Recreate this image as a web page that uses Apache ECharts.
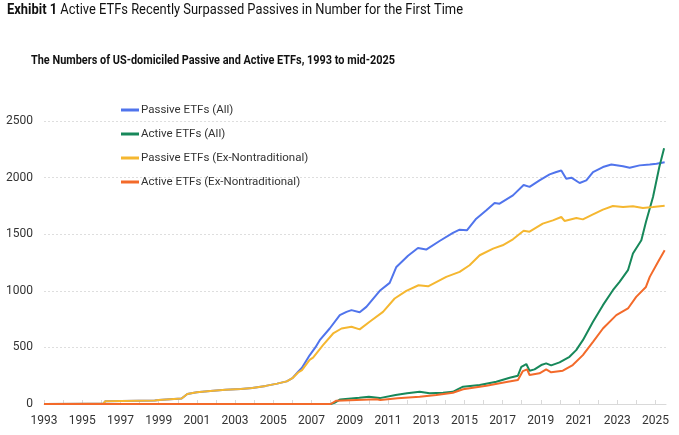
<!DOCTYPE html>
<html><head><meta charset="utf-8">
<script src="https://cdn.jsdelivr.net/npm/echarts@6/dist/echarts.min.js"></script>
<style>html,body{margin:0;padding:0;background:#fff}#c{width:679px;height:435px}</style>
</head><body><div id="c"></div>
<script>
const seriesNames = ['Passive ETFs (All)', 'Active ETFs (All)', 'Passive ETFs (Ex-Nontraditional)', 'Active ETFs (Ex-Nontraditional)'];
const yearTicks = [1993, 1995, 1997, 1999, 2001, 2003, 2005, 2007, 2009, 2011, 2013, 2015, 2017, 2019, 2021, 2023, 2025];
const titleBold = 'Exhibit 1';
const titleRest = 'Active ETFs Recently Surpassed Passives in Number for the First Time';
const subtitle = 'The Numbers of US-domiciled Passive and Active ETFs, 1993 to mid-2025';

const passiveAll = [[1993.0,1],[1995.3,2],[1996.1,2],[1996.2,24],[1998.8,30],[1999.0,35],[2000.2,48],[2000.5,88],[2001.0,103],[2001.7,115],[2002.5,125],[2003.3,133],[2003.9,142],[2004.6,160],[2005.2,180],[2005.7,200],[2006.0,228],[2006.3,285],[2006.5,320],[2006.9,430],[2007.2,500],[2007.43,564],[2007.95,667],[2008.48,785],[2008.83,814],[2009.09,829],[2009.52,810],[2009.87,858],[2010.57,1000],[2011.09,1070],[2011.44,1211],[2012.05,1310],[2012.57,1378],[2013.0,1364],[2013.7,1440],[2014.4,1511],[2014.75,1540],[2015.13,1534],[2015.62,1637],[2016.15,1711],[2016.58,1775],[2016.84,1770],[2017.54,1843],[2018.1,1935],[2018.41,1918],[2018.93,1975],[2019.46,2028],[2019.81,2049],[2020.07,2063],[2020.33,1990],[2020.6,1999],[2021.03,1952],[2021.38,1975],[2021.73,2049],[2022.25,2093],[2022.69,2116],[2023.3,2101],[2023.65,2087],[2024.17,2108],[2024.7,2116],[2025.05,2122],[2025.48,2135]];

const activeAll = [[1993.0,0],[2008.0,0],[2008.2,10],[2008.5,40],[2009.5,55],[2010.0,64],[2010.57,52],[2011.4,79],[2012.0,95],[2012.66,108],[2013.18,94],[2013.88,100],[2014.4,108],[2014.67,132],[2014.93,153],[2015.8,168],[2016.67,197],[2017.37,232],[2017.8,250],[2017.98,329],[2018.24,353],[2018.41,294],[2018.67,306],[2019.02,344],[2019.28,359],[2019.54,341],[2019.98,368],[2020.5,417],[2020.85,476],[2021.2,564],[2021.73,726],[2022.25,873],[2022.77,1005],[2023.12,1079],[2023.56,1182],[2023.82,1329],[2024.26,1446],[2024.5,1608],[2024.87,1828],[2025.2,2093],[2025.45,2260]];

const passiveEx = [[1993.0,1],[1995.3,2],[1996.1,2],[1996.2,24],[1998.8,30],[1999.0,35],[2000.2,48],[2000.5,88],[2001.0,103],[2001.7,115],[2002.5,125],[2003.3,133],[2003.9,142],[2004.6,160],[2005.2,180],[2005.7,200],[2006.0,228],[2006.3,278],[2006.5,300],[2006.9,390],[2007.08,410],[2007.6,520],[2008.13,623],[2008.57,667],[2009.09,682],[2009.52,659],[2010.04,726],[2010.74,814],[2011.35,932],[2011.96,1000],[2012.6,1049],[2013.1,1040],[2014.05,1123],[2014.75,1167],[2015.27,1226],[2015.8,1314],[2016.5,1373],[2017.0,1402],[2017.54,1455],[2018.1,1530],[2018.41,1522],[2019.1,1593],[2019.63,1622],[2020.07,1652],[2020.24,1617],[2020.86,1643],[2021.2,1631],[2021.73,1675],[2022.25,1717],[2022.77,1749],[2023.3,1740],[2023.82,1746],[2024.34,1731],[2024.87,1740],[2025.48,1752]];

const activeEx = [[1993.0,0],[2008.0,0],[2008.3,29],[2010.4,41],[2010.6,35],[2011.5,50],[2012.66,64],[2013.53,79],[2014.4,100],[2014.93,130],[2016.15,161],[2017.2,194],[2017.8,212],[2018.06,291],[2018.28,306],[2018.41,256],[2018.93,271],[2019.28,306],[2019.54,280],[2020.15,294],[2020.67,344],[2021.2,432],[2021.73,549],[2022.25,667],[2022.95,785],[2023.56,844],[2023.99,946],[2024.5,1034],[2024.7,1123],[2025.13,1255],[2025.48,1358]];

const colors = ['#5074ec', '#17885a', '#f5b730', '#f36a2a'];
const FONT = 'Roboto, "Liberation Sans", sans-serif';

// condense headline text to the reference's narrow typeface widths
const ctx = document.createElement('canvas').getContext('2d');
function tw(font, s) { ctx.font = font; return ctx.measureText(s).width; }
const tFontB = 'bold 15px ' + FONT, tFontN = '15px ' + FONT;
const titleW = tw(tFontB, titleBold) + tw(tFontN, ' ' + titleRest);
const titleScale = 456 / titleW;
const sFont = 'bold 12px ' + FONT;
const subScale = 364 / tw(sFont, subtitle);

const chart = echarts.init(document.getElementById('c'), null, {renderer: 'canvas'});
const dataSets = [passiveAll, activeAll, passiveEx, activeEx];
chart.setOption({
  animation: false,
  textStyle: {fontFamily: FONT},
  graphic: [{
    type: 'text', x: 7, y: 3, scaleX: titleScale,
    style: {
      text: '{b|' + titleBold + '}{n| ' + titleRest + '}',
      verticalAlign: 'top',
      rich: {
        b: {font: tFontB, fill: '#111'},
        n: {font: tFontN, fill: '#111'}
      }
    }
  }, {
    type: 'text', x: 31, y: 55, scaleX: subScale,
    style: {text: subtitle, font: sFont, fill: '#111', verticalAlign: 'top'}
  }],
  legend: {
    orient: 'vertical', left: 121, top: 104, padding: 0,
    itemWidth: 18, itemHeight: 3, itemGap: 12,
    icon: 'rect',
    data: seriesNames,
    textStyle: {fontFamily: FONT, fontSize: 11.5, color: '#333', padding: [0, 0, 0, -3]}
  },
  grid: {left: 44, right: 13, top: 121, bottom: 31, containLabel: false},
  xAxis: {
    type: 'value', min: 1993, max: 2025.55, interval: 1,
    splitLine: {show: false},
    axisLine: {lineStyle: {color: '#d9d9d9', width: 1}},
    axisTick: {inside: true, length: 4, lineStyle: {color: '#d9d9d9'}},
    axisLabel: {
      fontFamily: FONT, fontSize: 12, color: '#333', margin: 11, showMaxLabel: false,
      formatter: v => yearTicks.includes(v) ? String(v) : ''
    }
  },
  yAxis: {
    type: 'value', min: 0, max: 2500, interval: 500,
    axisLine: {show: false}, axisTick: {show: false},
    splitLine: {lineStyle: {color: '#dedede', type: [2, 2], width: 1}},
    axisLabel: {fontFamily: FONT, fontSize: 12, color: '#333', margin: 11, formatter: v => String(v)}
  },
  series: seriesNames.map((n, i) => ({
    name: n, type: 'line', data: dataSets[i], showSymbol: false, symbol: 'none',
    lineStyle: {width: 2, color: colors[i]}, itemStyle: {color: colors[i]}
  }))
});
</script></body></html>
